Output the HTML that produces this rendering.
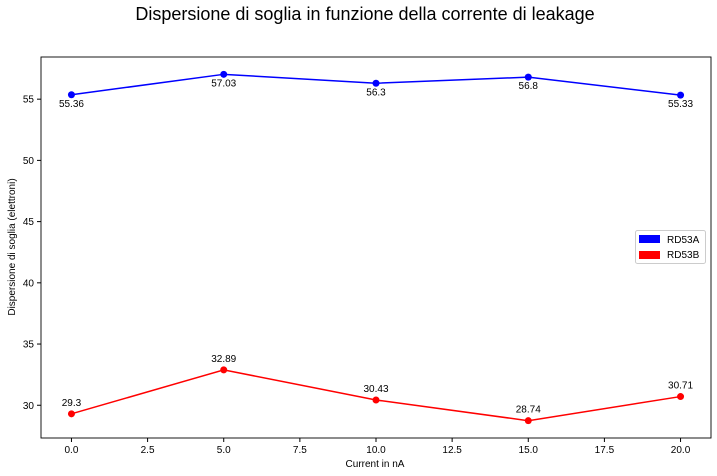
<!DOCTYPE html>
<html><head><meta charset="utf-8"><style>
body{margin:0;background:#fff;}
svg{display:block;font-family:"Liberation Sans","DejaVu Sans",sans-serif;}
</style></head><body>
<svg id="chart" width="717" height="476">
<text x="365" y="20" font-size="18" text-anchor="middle">Dispersione di soglia in funzione della corrente di leakage</text>
<g id="grid"></g>
<rect x="41" y="57" width="670" height="381" fill="none" stroke="#000" stroke-width="0.9"/>
<text x="375" y="467" font-size="10" text-anchor="middle">Current in nA</text>
<text transform="translate(15,247) rotate(-90)" font-size="10" text-anchor="middle">Dispersione di soglia (elettroni)</text>
<g id="axes"></g>
<g id="series"></g>
<g>
<rect x="635.5" y="230.5" width="70" height="33" rx="2" fill="#fff" stroke="#ccc"/>
<rect x="639" y="235" width="21" height="8" fill="#0000ff"/>
<text x="667" y="243" font-size="10">RD53A</text>
<rect x="639" y="251" width="21" height="8" fill="#ff0000"/>
<text x="667" y="258" font-size="10">RD53B</text>
</g>
</svg>
<script>
const xValues=[0,5,10,15,20];
const seriesA=[55.36,57.03,56.3,56.8,55.33];
const seriesB=[29.3,32.89,30.43,28.74,30.71];
const xTicks=[0,2.5,5,7.5,10,12.5,15,17.5,20];
const xTickLabels=["0.0","2.5","5.0","7.5","10.0","12.5","15.0","17.5","20.0"];
const yTicks=[30,35,40,45,50,55];

const L=41,R=711,T=57,B=438;
const all=seriesA.concat(seriesB);
const xmin0=Math.min(...xValues),xmax0=Math.max(...xValues);
const xpad=(xmax0-xmin0)*0.05;
const ymin0=Math.min(...all),ymax0=Math.max(...all),ypad=(ymax0-ymin0)*0.05;
const x0=xmin0-xpad,x1=xmax0+xpad,y0=ymin0-ypad,y1=ymax0+ypad;
const sx=v=>L+(v-x0)/(x1-x0)*(R-L);
const sy=v=>B-(v-y0)/(y1-y0)*(B-T);
const NS="http://www.w3.org/2000/svg";
function mk(tag,attrs,parent){const e=document.createElementNS(NS,tag);for(const k in attrs)e.setAttribute(k,attrs[k]);parent.appendChild(e);return e;}
const axes=document.getElementById('axes');
xTicks.forEach((t,i)=>{
 const x=sx(t);
 const l=mk('line',{x1:x,x2:x,y1:B,y2:B+4,stroke:'#000'},axes);
 
 
 const tx=mk('text',{x:x,y:B+15,'font-size':10,'text-anchor':'middle'},axes);
 tx.textContent=xTickLabels[i];
 
 
});
yTicks.forEach(t=>{
 const y=sy(t);
 const l=mk('line',{x1:L-4,x2:L,y1:y,y2:y,stroke:'#000'},axes);
 
 
 const tx=mk('text',{x:L-7,y:y+3.5,'font-size':10,'text-anchor':'end'},axes);
 tx.textContent=t;
 
 
});
const sg=document.getElementById('series');
function draw(vals,color,name,below){
 const pts=vals.map((v,i)=>sx(xValues[i])+','+sy(v)).join(' ');
 const pl=mk('polyline',{points:pts,fill:'none',stroke:color,'stroke-width':1.5},sg);
 
 
 vals.forEach((v,i)=>{
  const c=mk('circle',{cx:sx(xValues[i]),cy:sy(v),r:3.5,fill:color},sg);
  
  
  const t=mk('text',{x:sx(xValues[i]),y:sy(v)+(below?12:-8),'font-size':10,'text-anchor':'middle'},sg);
  t.textContent=v;
  
  
 });
}
draw(seriesA,'#0000ff','rd53a',true);
draw(seriesB,'#ff0000','rd53b',false);
</script>
</body></html>
